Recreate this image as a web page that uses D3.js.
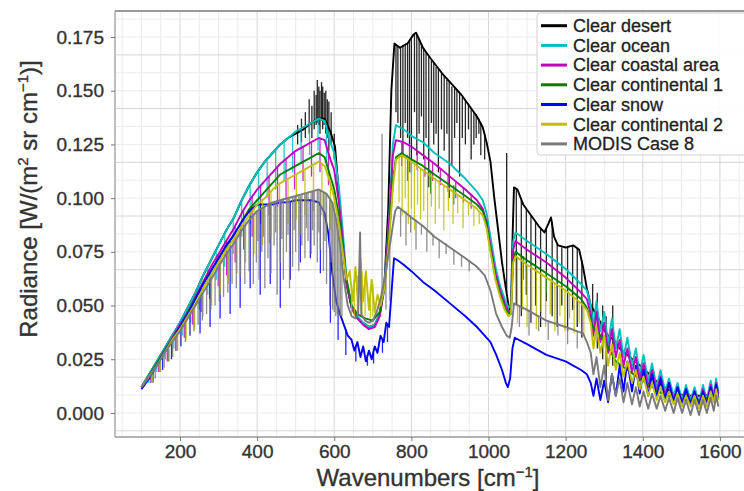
<!DOCTYPE html>
<html><head><meta charset="utf-8">
<script src="https://cdn.jsdelivr.net/npm/d3@7"></script>
<style>body{margin:0;background:#fff;} svg{display:block;font-family:"Liberation Sans",Arial,Helvetica,sans-serif;}</style>
</head><body><svg id="c" width="744" height="491"></svg>
<script>
// ---------- DATA ----------
const seriesNames = ["Clear desert","Clear ocean","Clear coastal area","Clear continental 1","Clear snow","Clear continental 2","MODIS Case 8"];
const seriesColors = ["#000000","#00bfbf","#bf00bf","#008000","#0000ff","#bfbf00","#7a7a7a"];
const xTicks = [200,400,600,800,1000,1200,1400,1600];
const yTicks = [0,0.025,0.05,0.075,0.1,0.125,0.15,0.175];

// envelopes: [wavenumber, radiance]; spikes: [wavenumber, from, to]
const desertEnv = [[100,0.012],[120,0.018],[140,0.024],[160,0.030],[180,0.036],[200,0.042],[220,0.049],[240,0.056],[260,0.064],[280,0.071],[300,0.078],[320,0.085],[340,0.091],[360,0.099],[380,0.106],[400,0.112],[420,0.117],[440,0.121],[460,0.125],[480,0.128],[500,0.130],[520,0.132],[540,0.135],[560,0.137],[575,0.137],[590,0.131],[602,0.124],[612,0.102],[622,0.080],[632,0.060],[645,0.049],[660,0.044],[690,0.040],[705,0.041],[718,0.046],[730,0.060],[740,0.095],[748,0.150],[756,0.172],[770,0.170],[790,0.172],[805,0.176],[812,0.177],[830,0.170],[850,0.165],[880,0.158],[900,0.154],[930,0.148],[950,0.143],[970,0.138],[985,0.133],[995,0.126],[1005,0.117],[1015,0.100],[1025,0.085],[1035,0.070],[1045,0.058],[1052,0.050],[1058,0.046],[1062,0.080],[1066,0.105],[1075,0.104],[1090,0.097],[1110,0.092],[1130,0.087],[1145,0.084],[1155,0.088],[1162,0.091],[1170,0.082],[1180,0.078],[1200,0.077],[1220,0.078],[1235,0.076],[1245,0.068],[1255,0.058],[1265,0.050],[1280,0.046],[1295,0.040],[1310,0.036],[1325,0.034],[1340,0.030],[1360,0.027],[1380,0.024],[1400,0.021],[1440,0.014],[1480,0.009],[1520,0.008],[1560,0.008],[1596,0.010]];
const desertSpikes = [[505,0.134,0.125],[515,0.137,0.126],[525,0.140,0.128],[535,0.146,0.130],[542,0.143,0.128],[548,0.150,0.132],[553,0.148,0.134],[556,0.155,0.135],[560,0.152,0.134],[563,0.150,0.130],[567,0.154,0.136],[570,0.152,0.132],[574,0.149,0.134],[578,0.150,0.130],[582,0.146,0.128],[586,0.145,0.122],[592,0.140,0.125],[600,0.130,0.118],[760,0.171,0.140],[765,0.171,0.135],[772,0.170,0.128],[778,0.171,0.120],[784,0.171,0.135],[790,0.172,0.128],[795,0.173,0.125],[800,0.174,0.112],[808,0.176,0.140],[814,0.176,0.120],[820,0.174,0.130],[826,0.172,0.138],[832,0.170,0.118],[838,0.168,0.128],[845,0.166,0.105],[852,0.164,0.135],[858,0.163,0.125],[864,0.161,0.130],[870,0.160,0.112],[878,0.158,0.132],[885,0.157,0.122],[892,0.155,0.130],[898,0.154,0.100],[905,0.152,0.115],[912,0.151,0.128],[918,0.150,0.135],[925,0.149,0.110],[932,0.147,0.128],[940,0.146,0.125],[948,0.144,0.132],[955,0.142,0.118],[962,0.140,0.125],[968,0.139,0.128],[975,0.137,0.130],[980,0.135,0.120],[990,0.130,0.118],[1047,0.121,0.056],[1072,0.104,0.050],[1085,0.099,0.045],[1098,0.095,0.055],[1110,0.092,0.042],[1122,0.089,0.050],[1135,0.086,0.040],[1150,0.086,0.052],[1165,0.089,0.045],[1178,0.079,0.040],[1190,0.077,0.050],[1205,0.077,0.038],[1218,0.078,0.048],[1230,0.077,0.040],[1242,0.071,0.035],[1270,0.060,0.035],[1282,0.056,0.030],[1296,0.050,0.025],[1305,0.045,0.015],[1322,0.050,0.022]];

const oceanEnv = [[100,0.012],[120,0.018],[140,0.024],[160,0.030],[180,0.036],[200,0.042],[220,0.049],[240,0.056],[260,0.064],[280,0.071],[300,0.078],[320,0.085],[340,0.091],[360,0.099],[380,0.106],[400,0.112],[420,0.117],[440,0.121],[460,0.125],[480,0.128],[500,0.131],[520,0.133],[540,0.135],[560,0.137],[575,0.136],[590,0.126],[600,0.121],[612,0.105],[622,0.085],[632,0.062],[645,0.050],[660,0.045],[675,0.042],[690,0.040],[705,0.041],[718,0.046],[730,0.060],[742,0.090],[752,0.125],[760,0.134],[780,0.132],[800,0.129],[830,0.126],[860,0.121],[900,0.116],[940,0.109],[970,0.103],[985,0.099],[995,0.093],[1005,0.082],[1018,0.068],[1030,0.059],[1042,0.053],[1052,0.049],[1058,0.050],[1064,0.080],[1070,0.084],[1100,0.080],[1150,0.074],[1200,0.067],[1240,0.060],[1255,0.057],[1265,0.050],[1272,0.040],[1280,0.052],[1290,0.038],[1300,0.047],[1310,0.032],[1320,0.044],[1330,0.030],[1340,0.039],[1350,0.026],[1360,0.035],[1372,0.022],[1382,0.030],[1392,0.018],[1402,0.027],[1414,0.015],[1424,0.023],[1436,0.012],[1446,0.020],[1458,0.010],[1468,0.016],[1480,0.008],[1490,0.014],[1502,0.006],[1512,0.013],[1524,0.006],[1534,0.012],[1546,0.005],[1556,0.013],[1566,0.006],[1576,0.015],[1584,0.008],[1590,0.016],[1596,0.010]];
const oceanSpikes = [[118,0.017,0.014],[140,0.024,0.019],[162,0.031,0.025],[184,0.037,0.030],[206,0.044,0.036],[228,0.052,0.042],[250,0.060,0.048],[272,0.068,0.055],[294,0.076,0.062],[316,0.084,0.068],[338,0.090,0.074],[360,0.099,0.082],[382,0.106,0.088],[404,0.113,0.095],[426,0.118,0.100],[448,0.122,0.104],[470,0.126,0.108],[492,0.129,0.112],[514,0.132,0.116],[536,0.134,0.120],[558,0.137,0.122],[580,0.134,0.115]];

const coastalEnv = [[100,0.012],[120,0.017],[140,0.023],[160,0.029],[180,0.035],[200,0.041],[220,0.047],[240,0.054],[260,0.061],[280,0.068],[300,0.074],[320,0.080],[340,0.086],[360,0.093],[380,0.099],[400,0.104],[420,0.108],[440,0.112],[460,0.116],[480,0.119],[500,0.122],[520,0.124],[540,0.126],[560,0.128],[575,0.127],[590,0.118],[600,0.113],[612,0.098],[622,0.080],[632,0.060],[645,0.049],[660,0.044],[675,0.041],[690,0.039],[705,0.040],[718,0.045],[730,0.058],[742,0.088],[752,0.120],[760,0.127],[780,0.126],[800,0.124],[830,0.120],[860,0.116],[900,0.110],[940,0.104],[970,0.099],[985,0.095],[995,0.089],[1005,0.078],[1018,0.065],[1030,0.057],[1042,0.051],[1052,0.047],[1058,0.048],[1064,0.076],[1070,0.080],[1100,0.076],[1150,0.070],[1200,0.063],[1240,0.056],[1255,0.053],[1265,0.046],[1272,0.036],[1280,0.047],[1290,0.033],[1300,0.042],[1310,0.028],[1320,0.039],[1330,0.026],[1340,0.034],[1350,0.022],[1360,0.030],[1372,0.019],[1382,0.026],[1392,0.015],[1402,0.023],[1414,0.012],[1424,0.020],[1436,0.010],[1446,0.017],[1458,0.008],[1468,0.014],[1480,0.006],[1490,0.012],[1502,0.005],[1512,0.011],[1524,0.005],[1534,0.010],[1546,0.004],[1556,0.011],[1566,0.005],[1576,0.013],[1584,0.007],[1590,0.014],[1596,0.009]];
const coastalSpikes = [[123,0.018,0.014],[145,0.025,0.019],[167,0.031,0.024],[189,0.037,0.029],[211,0.044,0.035],[233,0.051,0.041],[255,0.059,0.047],[277,0.067,0.053],[299,0.074,0.059],[321,0.080,0.064],[343,0.087,0.070],[365,0.094,0.076],[387,0.101,0.082],[409,0.106,0.088],[431,0.110,0.092],[453,0.114,0.096],[475,0.118,0.100],[497,0.121,0.104],[519,0.124,0.108],[541,0.126,0.110],[563,0.128,0.112],[585,0.122,0.106],[775,0.126,0.115],[795,0.124,0.112],[815,0.122,0.113],[835,0.120,0.110],[855,0.117,0.108],[875,0.114,0.106],[895,0.111,0.103],[915,0.108,0.100],[935,0.105,0.098],[955,0.102,0.095]];

const cont1Env = [[100,0.012],[140,0.023],[200,0.040],[260,0.060],[300,0.072],[340,0.083],[380,0.095],[420,0.103],[460,0.111],[500,0.115],[540,0.119],[560,0.121],[575,0.119],[590,0.110],[600,0.104],[612,0.092],[622,0.077],[632,0.062],[645,0.050],[660,0.046],[680,0.044],[700,0.043],[718,0.047],[730,0.058],[742,0.082],[752,0.108],[760,0.119],[775,0.121],[800,0.118],[830,0.115],[860,0.111],[900,0.106],[940,0.101],[970,0.097],[985,0.094],[995,0.088],[1005,0.076],[1018,0.063],[1030,0.055],[1042,0.049],[1052,0.046],[1058,0.047],[1064,0.071],[1070,0.075],[1100,0.071],[1150,0.065],[1200,0.059],[1240,0.053],[1255,0.049],[1270,0.040],[1300,0.034],[1330,0.024],[1360,0.020],[1400,0.015],[1450,0.009],[1500,0.006],[1550,0.006],[1596,0.008]];
const cont1Spikes = [[790,0.120,0.108],[850,0.113,0.102],[910,0.106,0.097],[1090,0.073,0.062],[1150,0.066,0.056]];

const snowEnv = [[100,0.011],[120,0.016],[140,0.022],[160,0.028],[180,0.034],[200,0.040],[220,0.046],[240,0.053],[260,0.060],[280,0.066],[300,0.072],[320,0.078],[340,0.083],[360,0.089],[380,0.094],[400,0.097],[420,0.097],[440,0.097],[460,0.098],[480,0.098],[500,0.099],[520,0.099],[540,0.099],[560,0.098],[575,0.093],[585,0.083],[595,0.065],[605,0.052],[615,0.046],[625,0.041],[635,0.036],[645,0.034],[652,0.029],[660,0.033],[668,0.026],[675,0.031],[682,0.024],[690,0.029],[697,0.025],[705,0.031],[712,0.028],[720,0.036],[728,0.033],[735,0.042],[742,0.040],[748,0.055],[755,0.072],[765,0.071],[780,0.069],[800,0.066],[830,0.061],[860,0.057],[900,0.051],[940,0.045],[970,0.040],[990,0.036],[1005,0.033],[1020,0.027],[1035,0.020],[1045,0.014],[1050,0.012],[1056,0.016],[1062,0.030],[1068,0.035],[1100,0.032],[1150,0.027],[1200,0.024],[1240,0.020],[1255,0.018],[1265,0.014],[1272,0.008],[1280,0.016],[1290,0.006],[1300,0.015],[1310,0.005],[1320,0.018],[1330,0.008],[1340,0.022],[1350,0.010],[1360,0.024],[1372,0.010],[1382,0.022],[1392,0.009],[1402,0.020],[1414,0.008],[1424,0.018],[1436,0.007],[1446,0.016],[1458,0.006],[1468,0.014],[1480,0.005],[1490,0.012],[1502,0.004],[1512,0.011],[1524,0.004],[1534,0.010],[1546,0.003],[1556,0.010],[1566,0.004],[1576,0.012],[1584,0.006],[1590,0.013],[1596,0.007]];
const snowSpikes = [[130,0.019,0.014],[155,0.027,0.020],[178,0.033,0.025],[202,0.040,0.031],[226,0.048,0.036],[252,0.057,0.037],[278,0.065,0.040],[304,0.073,0.044],[330,0.080,0.046],[356,0.088,0.049],[382,0.094,0.058],[408,0.097,0.055],[434,0.097,0.060],[460,0.098,0.049],[486,0.098,0.062],[512,0.099,0.070],[538,0.099,0.072],[564,0.097,0.065],[590,0.075,0.042],[610,0.049,0.034],[630,0.039,0.027],[656,0.031,0.024],[686,0.027,0.022],[702,0.028,0.023],[725,0.034,0.028],[738,0.041,0.033]];

const cont2Env = [[100,0.012],[120,0.017],[140,0.022],[160,0.028],[180,0.034],[200,0.039],[220,0.045],[240,0.051],[260,0.058],[280,0.064],[300,0.070],[320,0.076],[340,0.081],[360,0.087],[380,0.092],[400,0.097],[420,0.100],[440,0.104],[460,0.107],[480,0.109],[500,0.111],[520,0.113],[540,0.115],[560,0.117],[575,0.115],[590,0.107],[600,0.100],[612,0.088],[622,0.075],[632,0.062],[640,0.066],[648,0.052],[655,0.068],[662,0.050],[668,0.072],[675,0.052],[682,0.066],[690,0.048],[697,0.062],[705,0.047],[712,0.055],[720,0.050],[730,0.058],[742,0.080],[752,0.105],[760,0.118],[775,0.120],[800,0.117],[830,0.113],[860,0.109],[900,0.104],[940,0.099],[970,0.095],[985,0.092],[995,0.086],[1005,0.075],[1018,0.062],[1030,0.054],[1042,0.048],[1052,0.045],[1058,0.046],[1064,0.070],[1070,0.073],[1100,0.069],[1150,0.063],[1200,0.057],[1240,0.051],[1255,0.048],[1265,0.042],[1272,0.030],[1280,0.040],[1290,0.028],[1300,0.036],[1310,0.022],[1320,0.032],[1330,0.020],[1340,0.028],[1350,0.017],[1360,0.024],[1372,0.014],[1382,0.020],[1392,0.011],[1402,0.017],[1414,0.008],[1424,0.014],[1436,0.006],[1446,0.012],[1458,0.005],[1468,0.010],[1480,0.004],[1490,0.009],[1502,0.003],[1512,0.008],[1524,0.003],[1534,0.008],[1546,0.002],[1556,0.008],[1566,0.003],[1576,0.010],[1584,0.005],[1590,0.011],[1596,0.006]];
const cont2Spikes = [[128,0.018,0.014],[150,0.024,0.019],[172,0.030,0.024],[194,0.036,0.029],[216,0.043,0.034],[238,0.050,0.039],[260,0.058,0.045],[282,0.064,0.050],[304,0.071,0.055],[326,0.077,0.060],[348,0.083,0.065],[370,0.089,0.070],[392,0.095,0.074],[414,0.099,0.078],[436,0.103,0.082],[458,0.107,0.085],[480,0.109,0.088],[502,0.111,0.090],[524,0.113,0.092],[546,0.115,0.094],[568,0.116,0.092],[590,0.107,0.085],[645,0.060,0.046],[652,0.062,0.045],[660,0.064,0.046],[672,0.066,0.046],[680,0.064,0.045],[694,0.058,0.044],[700,0.060,0.045],[768,0.119,0.098],[776,0.120,0.092],[784,0.119,0.100],[792,0.118,0.088],[800,0.117,0.095],[808,0.116,0.085],[816,0.115,0.097],[824,0.114,0.090],[832,0.113,0.094],[842,0.111,0.086],[852,0.110,0.096],[862,0.109,0.088],[872,0.108,0.095],[884,0.106,0.085],[896,0.104,0.094],[908,0.103,0.088],[920,0.101,0.093],[934,0.100,0.086],[948,0.098,0.092],[962,0.096,0.087],[976,0.094,0.088],[1075,0.072,0.042],[1088,0.071,0.048],[1100,0.069,0.040],[1112,0.067,0.046],[1124,0.066,0.039],[1136,0.064,0.047],[1148,0.063,0.040],[1160,0.061,0.046],[1172,0.060,0.038],[1185,0.058,0.045],[1198,0.057,0.038],[1210,0.055,0.044],[1222,0.054,0.037],[1235,0.052,0.042],[1247,0.050,0.036]];

const modisEnv = [[100,0.012],[120,0.017],[140,0.022],[160,0.028],[180,0.033],[200,0.038],[220,0.044],[240,0.050],[260,0.056],[280,0.062],[300,0.068],[320,0.074],[340,0.079],[360,0.085],[380,0.090],[400,0.094],[420,0.096],[440,0.098],[460,0.099],[480,0.100],[500,0.101],[520,0.102],[540,0.103],[560,0.104],[580,0.102],[595,0.098],[605,0.090],[615,0.078],[625,0.062],[635,0.050],[645,0.045],[655,0.044],[662,0.046],[667,0.084],[670,0.046],[680,0.043],[690,0.042],[700,0.043],[710,0.047],[720,0.053],[730,0.062],[740,0.073],[750,0.085],[758,0.094],[765,0.096],[800,0.091],[830,0.087],[860,0.082],[900,0.077],[940,0.072],[970,0.068],[990,0.064],[1005,0.057],[1020,0.046],[1035,0.040],[1047,0.036],[1055,0.035],[1060,0.040],[1066,0.051],[1100,0.048],[1150,0.043],[1200,0.040],[1245,0.037],[1255,0.033],[1265,0.028],[1272,0.018],[1280,0.026],[1290,0.012],[1300,0.022],[1310,0.006],[1320,0.018],[1330,0.008],[1340,0.016],[1350,0.005],[1360,0.014],[1372,0.004],[1382,0.012],[1392,0.003],[1402,0.010],[1414,0.002],[1424,0.009],[1436,0.002],[1446,0.008],[1458,0.001],[1468,0.007],[1480,0.000],[1490,0.007],[1502,0.000],[1512,0.006],[1524,-0.001],[1534,0.006],[1546,-0.001],[1556,0.006],[1566,0.000],[1576,0.007],[1584,0.001],[1590,0.008],[1596,0.003]];
const modisSpikes = [[125,0.018,0.014],[136,0.020,0.016],[148,0.025,0.019],[159,0.027,0.021],[170,0.031,0.024],[181,0.033,0.026],[192,0.036,0.029],[203,0.039,0.031],[214,0.042,0.033],[225,0.046,0.036],[236,0.049,0.038],[247,0.052,0.041],[258,0.055,0.043],[269,0.059,0.046],[280,0.062,0.048],[291,0.065,0.050],[302,0.068,0.052],[313,0.071,0.054],[324,0.075,0.056],[335,0.078,0.060],[346,0.081,0.058],[357,0.084,0.064],[368,0.087,0.060],[379,0.089,0.066],[390,0.092,0.060],[398,0.094,0.070],[402,0.094,0.080],[405,0.095,0.062],[412,0.095,0.075],[416,0.096,0.082],[420,0.096,0.058],[428,0.097,0.072],[432,0.097,0.079],[436,0.098,0.065],[444,0.098,0.078],[448,0.098,0.084],[452,0.099,0.055],[460,0.099,0.070],[464,0.099,0.081],[468,0.100,0.062],[476,0.100,0.075],[480,0.100,0.083],[484,0.100,0.058],[492,0.101,0.068],[496,0.101,0.085],[500,0.101,0.075],[508,0.101,0.066],[512,0.101,0.083],[516,0.102,0.078],[524,0.102,0.072],[528,0.102,0.086],[532,0.103,0.080],[540,0.103,0.074],[544,0.103,0.085],[548,0.103,0.078],[556,0.104,0.070],[560,0.104,0.084],[564,0.104,0.076],[572,0.103,0.066],[576,0.103,0.080],[580,0.102,0.060],[588,0.100,0.050],[592,0.099,0.070],[596,0.097,0.048],[600,0.094,0.047],[604,0.091,0.045],[608,0.087,0.046],[612,0.082,0.045],[616,0.077,0.045],[620,0.070,0.045],[724,0.057,0.130],[734,0.066,0.048],[744,0.077,0.052],[772,0.095,0.082],[786,0.094,0.078],[798,0.092,0.084],[812,0.090,0.076],[826,0.088,0.083],[840,0.086,0.075],[856,0.083,0.078],[872,0.081,0.072],[890,0.079,0.074],[910,0.076,0.069],[930,0.073,0.068],[950,0.071,0.066],[1080,0.050,0.040],[1105,0.048,0.036],[1130,0.045,0.038],[1155,0.043,0.034],[1180,0.042,0.036],[1205,0.040,0.032],[1230,0.038,0.030]];

const seriesEnvs = [desertEnv, oceanEnv, coastalEnv, cont1Env, snowEnv, cont2Env, modisEnv];
const seriesSpikes = [desertSpikes, oceanSpikes, coastalSpikes, cont1Spikes, snowSpikes, cont2Spikes, modisSpikes];

// ---------- CHART ----------
const svg = d3.select("#c");
const L = 115, R = 744, T = 11, B = 437;
const x = d3.scaleLinear().domain([31.5, 1662.4]).range([L, R]);
const y = d3.scaleLinear().domain([-0.0112, 0.1871]).range([B, T]);

svg.append("rect").attr("width",744).attr("height",491).attr("fill","#fff");

// grid
const gGrid = svg.append("g");
const xMinor = d3.range(50, 1661, 50);
const yMinor = d3.range(-1, 23).map(i => i * 0.025 / 3);
gGrid.selectAll(".xm").data(xMinor).enter().append("line")
  .attr("x1", d => x(d)).attr("x2", d => x(d)).attr("y1", T).attr("y2", B)
  .attr("stroke", d => (d % 200 === 0) ? "#d6d6d6" : "#ebebeb").attr("stroke-width", 1);
gGrid.selectAll(".ym").data(yMinor).enter().append("line")
  .attr("x1", L).attr("x2", R).attr("y1", d => y(d)).attr("y2", d => y(d))
  .attr("stroke", (d, i) => ((i + 1) % 3 === 1) ? "#d6d6d6" : "#ebebeb").attr("stroke-width", 1);

// clip
svg.append("clipPath").attr("id","clip").append("rect").attr("x",L).attr("y",T).attr("width",R-L).attr("height",B-T);
const gData = svg.append("g").attr("clip-path","url(#clip)");
const line = d3.line().x(d => x(d[0])).y(d => y(d[1]));

seriesEnvs.forEach((env, i) => {
  const g = gData.append("g");
  g.append("path").attr("d", line(env)).attr("fill","none")
    .attr("stroke", seriesColors[i]).attr("stroke-width", 1.9).attr("stroke-linejoin","round");
  g.selectAll("line").data(seriesSpikes[i]).enter().append("line")
    .attr("x1", d => x(d[0])).attr("x2", d => x(d[0]))
    .attr("y1", d => y(d[1])).attr("y2", d => y(d[2]))
    .attr("stroke", seriesColors[i]).attr("stroke-width", 1.3).attr("stroke-opacity", 0.85);
});

// frame
svg.append("line").attr("x1",L).attr("x2",L).attr("y1",T).attr("y2",B).attr("stroke","#aaa").attr("stroke-width",1.5);
svg.append("line").attr("x1",L).attr("x2",R).attr("y1",B).attr("y2",B).attr("stroke","#999").attr("stroke-width",1.5);
svg.append("line").attr("x1",L).attr("x2",R).attr("y1",T).attr("y2",T).attr("stroke","#999").attr("stroke-width",2);

// axes
const yAxis = svg.append("g").attr("transform",`translate(${L},0)`)
  .call(d3.axisLeft(y).tickValues(yTicks).tickFormat(d3.format(".3f")).tickSize(4).tickPadding(7));
const xAxis = svg.append("g").attr("transform",`translate(0,${B})`)
  .call(d3.axisBottom(x).tickValues(xTicks).tickFormat(d3.format("d")).tickSize(4).tickPadding(4));
[yAxis, xAxis].forEach(a => {
  a.select(".domain").remove();
  a.selectAll(".tick line").attr("stroke","#777");
  a.selectAll(".tick text").attr("fill","#333").attr("stroke","#333").attr("stroke-width",0.35)
    .style("font-size","19px").style("font-family",'"Liberation Sans",Arial,sans-serif');
});

// axis labels
const xl = svg.append("text").attr("x", 428).attr("y", 486).attr("text-anchor","middle")
  .attr("fill","#333").attr("stroke","#333").attr("stroke-width",0.35).style("font-size","24px");
xl.append("tspan").text("Wavenumbers [cm");
xl.append("tspan").attr("dy",-9).style("font-size","15px").text("−1");
xl.append("tspan").attr("dy",9).text("]");

const yl = svg.append("text").attr("transform","translate(37,199) rotate(-90)").attr("text-anchor","middle")
  .attr("fill","#333").attr("stroke","#333").attr("stroke-width",0.35).style("font-size","24px");
yl.append("tspan").text("Radiance [W/(m");
yl.append("tspan").attr("dy",-9).style("font-size","15px").text("2");
yl.append("tspan").attr("dy",9).text(" sr cm");
yl.append("tspan").attr("dy",-9).style("font-size","15px").text("−1");
yl.append("tspan").attr("dy",9).text(")]");

// legend
const lg = svg.append("g");
lg.append("rect").attr("x",537).attr("y",13).attr("width",215).attr("height",142).attr("rx",3)
  .attr("fill","#fff").attr("fill-opacity",0.9).attr("stroke","#d0d0d0");
seriesNames.forEach((n, i) => {
  const yy = 25.7 + i * 19.7;
  lg.append("line").attr("x1",541).attr("x2",567).attr("y1",yy).attr("y2",yy)
    .attr("stroke", seriesColors[i]).attr("stroke-width",3);
  lg.append("text").attr("x",573).attr("y",yy).attr("dy","0.35em").attr("fill","#222")
    .attr("stroke","#222").attr("stroke-width",0.3).style("font-size","18px").text(n);
});
</script></body></html>
